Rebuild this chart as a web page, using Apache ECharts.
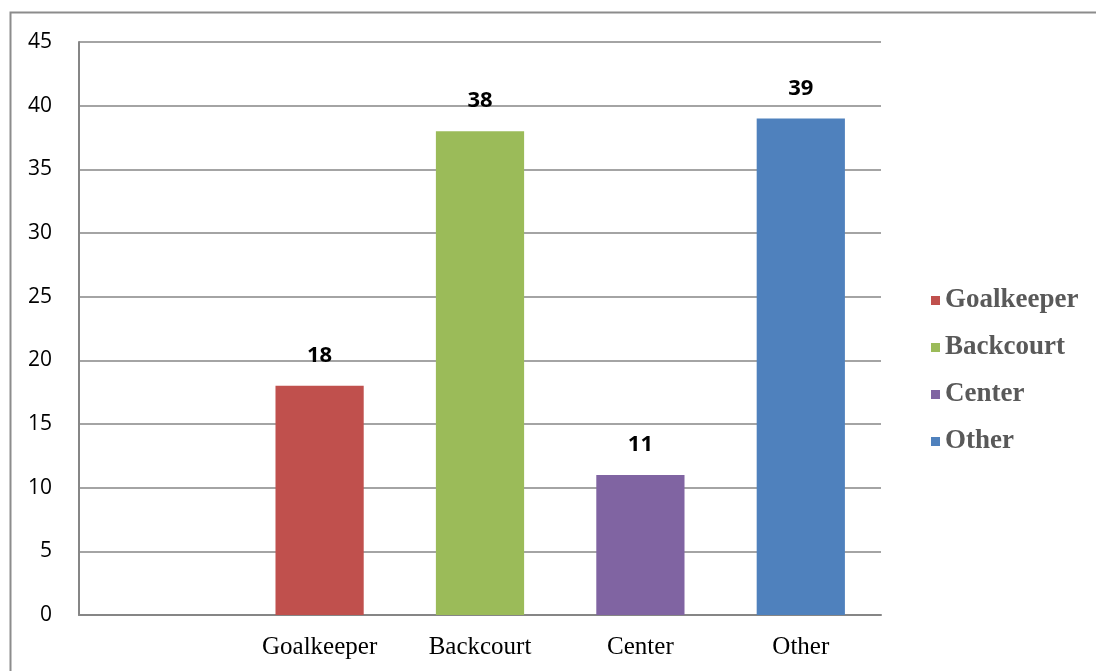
<!DOCTYPE html>
<html>
<head>
<meta charset="utf-8">
<style>
  html, body { margin: 0; padding: 0; background: #fff; }
  #chart { width: 1096px; height: 671px; }
</style>
<script src="https://cdn.jsdelivr.net/npm/echarts@6/dist/echarts.min.js"></script>
</head>
<body>
<div id="chart"></div>
<script>
// Player positions; the leading blank slot keeps the first category empty
const categories = ['', 'Goalkeeper', 'Backcourt', 'Center', 'Other'];
const seriesNames = ['Goalkeeper', 'Backcourt', 'Center', 'Other'];
const seriesValues = [18, 38, 11, 39];
const seriesColors = ['#c0504d', '#9bbb59', '#8064a2', '#4f81bd'];
const yTicks = [0, 45, 5]; // min, max, step

const chart = echarts.init(document.getElementById('chart'));

// One stacked series per position so each gets its own legend entry,
// with a value only in its own category slot
const series = seriesNames.map((name, i) => ({
  name: name,
  type: 'bar',
  stack: 'positions',
  barCategoryGap: '45%',
  itemStyle: { color: seriesColors[i] },
  label: {
    show: true,
    position: 'top',
    distance: 19,
    color: '#000',
    fontFamily: 'Open Sans',
    fontWeight: 'bold',
    fontSize: 22
  },
  data: categories.map(c => (c === name ? seriesValues[i] : '-'))
}));

chart.setOption({
  animation: false,
  backgroundColor: '#fff',
  graphic: [{
    type: 'rect',
    shape: { x: 10.5, y: 12.5, width: 1200, height: 800 },
    style: { fill: 'none', stroke: '#8c8c8c', lineWidth: 2 },
    silent: true,
    z: -1
  }],
  grid: { left: 79, top: 42, width: 802, height: 573, containLabel: false },
  legend: {
    orient: 'vertical',
    left: 926,
    top: 282,
    itemWidth: 9,
    itemHeight: 9,
    itemGap: 20,
    icon: 'rect',
    textStyle: {
      fontFamily: 'Liberation Serif',
      fontWeight: 'bold',
      fontSize: 27,
      lineHeight: 27,
      color: '#595959'
    },
    data: seriesNames
  },
  xAxis: {
    type: 'category',
    data: categories,
    axisLine: { show: true, lineStyle: { color: '#868686', width: 2 } },
    axisTick: { show: false },
    axisLabel: {
      margin: 20,
      fontFamily: 'Liberation Serif',
      fontSize: 25,
      color: '#000'
    }
  },
  yAxis: {
    type: 'value',
    min: yTicks[0],
    max: yTicks[1],
    interval: yTicks[2],
    axisLine: { show: true, lineStyle: { color: '#868686', width: 2 } },
    axisTick: { show: false },
    splitLine: { lineStyle: { color: '#868686', width: 1.5 } },
    axisLabel: {
      margin: 27,
      fontFamily: 'Open Sans',
      fontSize: 21,
      color: '#000'
    }
  },
  series: series
});
</script>
</body>
</html>
